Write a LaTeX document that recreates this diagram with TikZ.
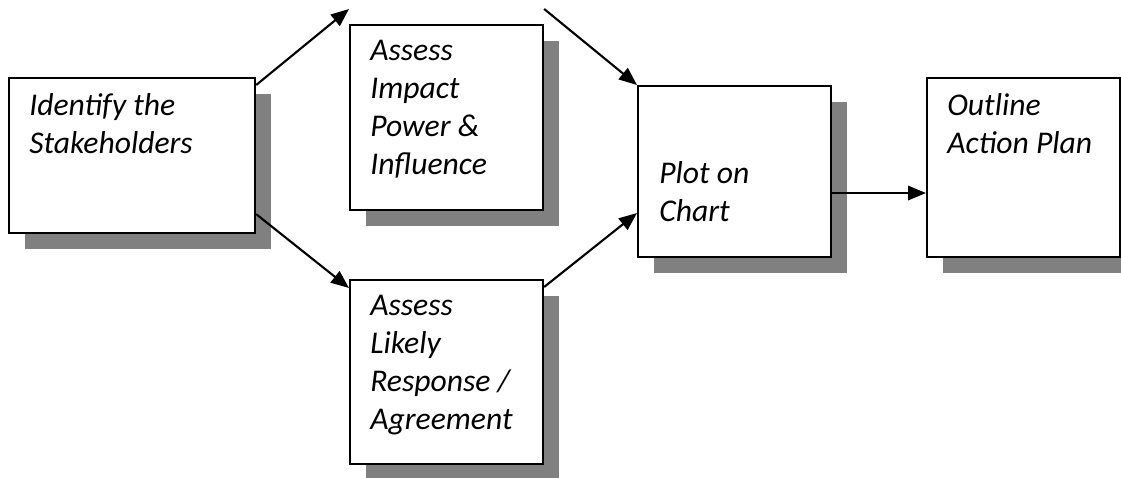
\documentclass[tikz,border=0pt]{standalone}
\usepackage{fontspec}
\setmainfont{Carlito}
\usetikzlibrary{positioning}
\usetikzlibrary{shadows, arrows.meta}

\tikzset{
  stepbox/.style={draw=black,line width=1.5pt,fill=white,inner sep=0pt,anchor=north west,
    drop shadow={shadow xshift=0.4cm,shadow yshift=-0.4cm,fill=gray,opacity=1}},
  steptext/.style={font=\fontsize{22.5}{27}\selectfont\itshape,align=left,inner sep=0pt},
  flow/.style={line width=1.5pt,-{Triangle[length=0.45cm,width=0.36cm]}}
}

\begin{document}
\begin{tikzpicture}[x=0.025cm,y=-0.025cm]
\useasboundingbox (0,0) rectangle (1121,478);

\node[stepbox,minimum width=6.15cm,minimum height=3.875cm] (identify) at (8,77) {};
\node[stepbox,minimum width=4.825cm,minimum height=4.625cm] (impact) at (349,24) {};
\node[stepbox,minimum width=4.825cm,minimum height=4.6cm] (response) at (349,279) {};
\node[stepbox,minimum width=4.825cm,minimum height=4.275cm] (plot) at (637,85) {};
\node[stepbox,minimum width=4.825cm,minimum height=4.475cm] (outline) at (926,77) {};

\node[steptext,below right=0.4cm and 0.525cm of identify.north west] (identifytext) {Identify the\\Stakeholders};
\node[steptext,below right=0.4cm and 0.525cm of impact.north west] (impacttext) {Assess\\Impact\\Power \&\\Influence};
\node[steptext,below right=0.4cm and 0.525cm of response.north west] (responsetext) {Assess\\Likely\\Response /\\Agreement};
\node[steptext,below right=1.9cm and 0.55cm of plot.north west] (plottext) {Plot on\\Chart};
\node[steptext,below right=0.4cm and 0.525cm of outline.north west] (outlinetext) {Outline\\Action Plan};

\coordinate (upstart) at ([yshift=-0.2cm]identify.north east);
\coordinate (upend) at ([yshift=0.375cm]impact.north west);
\coordinate (overstart) at ([yshift=0.375cm]impact.north east);
\coordinate (downstart) at ([yshift=0.5cm]identify.south east);
\coordinate (downend) at ([yshift=-0.225cm]response.north west);
\coordinate (backstart) at ([yshift=-0.2cm]response.north east);
\coordinate (backend) at ([yshift=-3.2cm]plot.north west);
\coordinate (planstart) at ([yshift=-2.7cm]plot.north east);

\draw[flow] (upstart) -- (upend);
\draw[flow] (overstart) -- (plot.north west);
\draw[flow] (downstart) -- (downend);
\draw[flow] (backstart) -- (backend);
\draw[flow] (planstart) -- (planstart -| outline.west);

\end{tikzpicture}
\end{document}
